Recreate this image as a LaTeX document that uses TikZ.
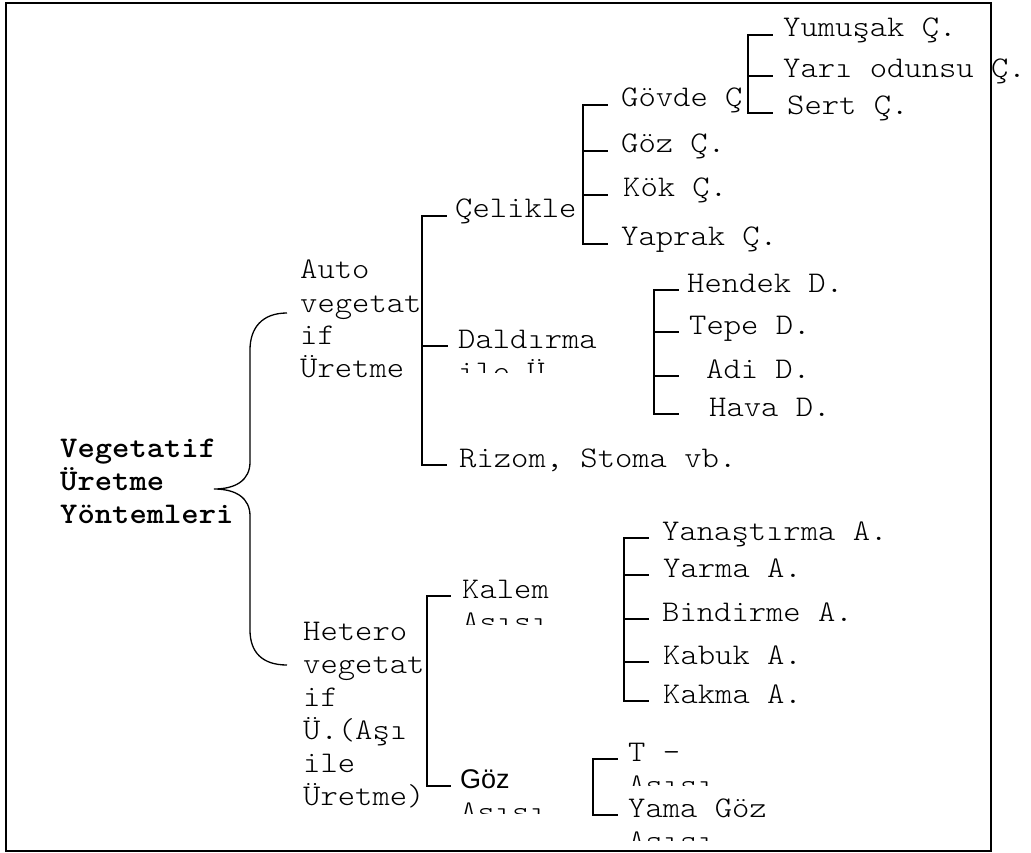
\documentclass[tikz,border=0pt]{standalone}
\usepackage{fontspec}
\newfontfamily\cour{Latin Modern Mono Light}[FakeStretch=1.1]
\newfontfamily\arial{Liberation Sans}
\newcommand{\stk}[1]{\vtop{\baselineskip=33pt\lineskiplimit=-100pt\lineskip=0pt\halign{##\hfil\cr#1\crcr}}}
\newcommand{\brk}[4]{%
  \draw[ln] (#1 |- #2.mid west) ++(#4,0) -- ++(-#4,0) -- (#1 |- #3.mid west) -- ++(#4,0);}
\begin{document}
\begin{tikzpicture}[x=1pt,y=-1pt,
  txt/.style={anchor=base west,inner sep=0pt,font=\cour\fontsize{30}{33}\selectfont},
  rootf/.style={txt,font=\cour\bfseries\fontsize{30}{33}\selectfont},
  ln/.style={line width=1.7pt,line cap=rect},
  brace/.style={line width=1.3pt},
  frame/.style={line width=1.6pt}]
\useasboundingbox (0,0) rectangle (1031,853);
\draw[frame] (6,3) rectangle (991,851);

% texts
\node[rootf] (root) at (60,457) {\stk{Vegetatif\cr Üretme\cr Yöntemleri}};
\node[txt] (auto) at (300,279) {\stk{Auto\cr vegetat\cr if\cr Üretme}};
\node[txt] (hetero) at (303,640) {\stk{Hetero\cr vegetat\cr if\cr Ü.(Aşı\cr ile\cr Üretme)}};

\node[txt] (celikle) at (455,218) {Çelikle};
\begin{scope}
  \clip (0,0) rectangle (1031,372);
  \node[txt] (dald) at (458,348) {\stk{Daldırma\cr ile Ü}};
\end{scope}
\node[txt] (rizom) at (459,467) {Rizom, Stoma vb.};

\node[txt] (govde) at (621,107) {Gövde Ç};
\node[txt] (gozc) at (621,153) {Göz Ç.};
\node[txt] (kok) at (623,197) {Kök Ç.};
\node[txt] (yaprak) at (621,246) {Yaprak Ç.};

\node[txt] (yumusak) at (783,37) {Yumuşak Ç.};
\node[txt] (yari) at (783,78) {Yarı odunsu Ç.};
\node[txt] (sert) at (787,115) {Sert Ç.};

\node[txt] (hendek) at (687,292) {Hendek D.};
\node[txt] (tepe) at (689,334) {Tepe D.};
\node[txt] (adi) at (706,378) {Adi D.};
\node[txt] (hava) at (709,416) {Hava D.};

\begin{scope}
  \clip (0,0) rectangle (1031,624);
  \node[txt] (kalem) at (462,598) {\stk{Kalem\cr Aşısı}};
\end{scope}
\begin{scope}
  \clip (0,0) rectangle (1031,813);
  \node[txt] (goz) at (460,788) {\stk{{\arial\fontsize{27}{33}\selectfont Göz}\cr Aşısı}};
\end{scope}

\node[txt] (yanas) at (662,540) {Yanaştırma A.};
\node[txt] (yarma) at (663,577) {Yarma A.};
\node[txt] (bind) at (662,621) {Bindirme A.};
\node[txt] (kabuk) at (663,664) {Kabuk A.};
\node[txt] (kakma) at (663,703) {Kakma A.};

\begin{scope}
  \clip (0,0) rectangle (1031,785);
  \node[txt] (tasi) at (628,761) {\stk{T -\cr Aşısı}};
\end{scope}
\begin{scope}
  \clip (0,0) rectangle (1031,840);
  \node[txt] (yama) at (628,817) {\stk{Yama Göz\cr Aşısı}};
\end{scope}

% bracket bars
\coordinate (b1) at (422,0);
\coordinate (b2) at (427,0);
\coordinate (b3) at (583,0);
\coordinate (b4) at (748,0);
\coordinate (b5) at (654,0);
\coordinate (b6) at (624,0);
\coordinate (b7) at (593,0);

\brk{b1}{celikle}{rizom}{24}
\draw[ln] (b1 |- dald.mid west) -- ++(25,0);

\brk{b2}{kalem}{goz}{23}

\brk{b3}{govde}{yaprak}{24}
\foreach \n in {gozc,kok} \draw[ln] (b3 |- \n.mid west) -- ++(24,0);

\brk{b4}{yumusak}{sert}{24}
\draw[ln] (b4 |- yari.mid west) -- ++(24,0);

\brk{b5}{hendek}{hava}{24}
\foreach \n in {tepe,adi} \draw[ln] (b5 |- \n.mid west) -- ++(24,0);

\brk{b6}{yanas}{kakma}{24}
\foreach \n in {yarma,bind,kabuk} \draw[ln] (b6 |- \n.mid west) -- ++(24,0);

\brk{b7}{tasi}{yama}{24}

% curly brace from root to the two groups
\coordinate (tip) at (214,489);
\coordinate (btop) at (287,313);
\coordinate (bbot) at (287,665);
\draw[brace] (btop) .. controls (262,313) and (250,328) .. (250,350)
  -- (250,462) .. controls (250,480) and (236,489) .. (tip)
  .. controls (236,489) and (250,498) .. (250,516)
  -- (250,630) .. controls (250,652) and (262,665) .. (bbot);
\end{tikzpicture}
\end{document}
